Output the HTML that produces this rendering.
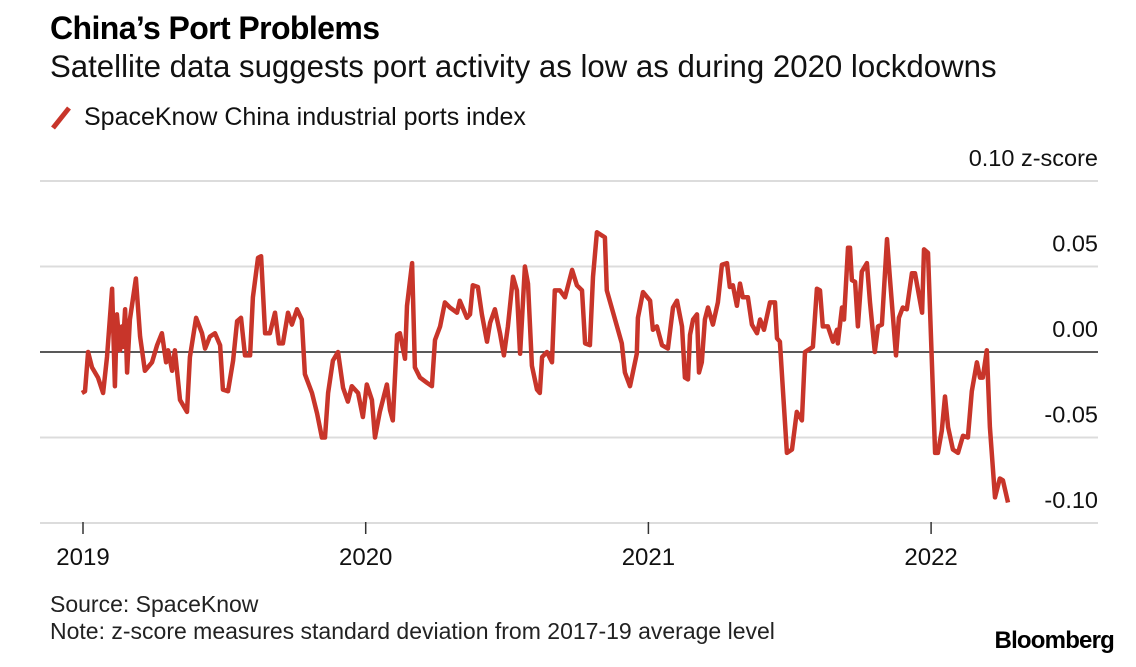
<!DOCTYPE html>
<html><head><meta charset="utf-8"><style>
html,body{margin:0;padding:0;background:#fff;}
body{width:1136px;height:667px;overflow:hidden;font-family:"Liberation Sans",sans-serif;}
svg{display:block}
</style></head><body>
<svg id="chart" width="1136" height="667" xmlns="http://www.w3.org/2000/svg">
<text x="50" y="39" font-size="32" font-weight="bold" fill="#000" letter-spacing="-0.6">China’s Port Problems</text>
<text x="50" y="77" font-size="31.2" fill="#111">Satellite data suggests port activity as low as during 2020 lockdowns</text>
<g>
<line x1="53" y1="128" x2="69" y2="108" stroke="#c8352a" stroke-width="5"/>
<text x="84" y="125" font-size="25" fill="#111">SpaceKnow China industrial ports index</text>
</g>
<g id="grid"></g>
<g id="series"></g>
<g id="xaxis"></g>
<text x="50" y="612" font-size="23" fill="#222">Source: SpaceKnow</text>
<text x="50" y="639" font-size="23" fill="#222">Note: z-score measures standard deviation from 2017-19 average level</text>
<text x="1114" y="648" font-size="24" font-weight="bold" text-anchor="end" fill="#000" letter-spacing="-0.8">Bloomberg</text>
</svg>
<script>
const yTicks = [0.10, 0.05, 0.00, -0.05, -0.10];
const yTickLabels = ["0.10 z-score", "0.05", "0.00", "-0.05", "-0.10"];
const xTicks = [2019, 2020, 2021, 2022];
const dates = [2018.996,2019.007,2019.018,2019.032,2019.053,2019.071,2019.085,2019.103,2019.113,2019.120,2019.131,2019.138,2019.141,2019.149,2019.156,2019.166,2019.187,2019.202,2019.219,2019.244,2019.262,2019.279,2019.294,2019.301,2019.315,2019.325,2019.343,2019.368,2019.378,2019.400,2019.421,2019.432,2019.449,2019.467,2019.485,2019.495,2019.513,2019.531,2019.545,2019.559,2019.573,2019.591,2019.601,2019.619,2019.630,2019.644,2019.661,2019.679,2019.693,2019.707,2019.725,2019.739,2019.757,2019.774,2019.785,2019.810,2019.828,2019.845,2019.856,2019.867,2019.884,2019.902,2019.920,2019.937,2019.951,2019.973,2019.990,2020.004,2020.022,2020.033,2020.050,2020.075,2020.086,2020.096,2020.111,2020.121,2020.139,2020.146,2020.164,2020.174,2020.192,2020.217,2020.234,2020.245,2020.263,2020.280,2020.298,2020.323,2020.333,2020.358,2020.369,2020.379,2020.397,2020.411,2020.429,2020.440,2020.457,2020.475,2020.489,2020.503,2020.521,2020.535,2020.546,2020.563,2020.574,2020.588,2020.606,2020.616,2020.624,2020.641,2020.659,2020.669,2020.687,2020.705,2020.730,2020.747,2020.765,2020.776,2020.793,2020.804,2020.818,2020.846,2020.853,2020.889,2020.906,2020.917,2020.935,2020.959,2020.963,2020.981,2021.006,2021.016,2021.030,2021.048,2021.069,2021.087,2021.101,2021.119,2021.129,2021.140,2021.147,2021.158,2021.172,2021.179,2021.189,2021.200,2021.211,2021.228,2021.246,2021.260,2021.278,2021.288,2021.299,2021.313,2021.324,2021.334,2021.352,2021.366,2021.384,2021.395,2021.409,2021.430,2021.448,2021.455,2021.465,2021.476,2021.490,2021.508,2021.525,2021.543,2021.554,2021.582,2021.596,2021.607,2021.617,2021.635,2021.653,2021.667,2021.670,2021.685,2021.692,2021.706,2021.713,2021.720,2021.731,2021.741,2021.755,2021.773,2021.784,2021.801,2021.812,2021.826,2021.844,2021.854,2021.876,2021.886,2021.900,2021.914,2021.932,2021.943,2021.968,2021.975,2021.989,2022.014,2022.024,2022.038,2022.049,2022.060,2022.077,2022.095,2022.113,2022.130,2022.144,2022.162,2022.173,2022.183,2022.197,2022.208,2022.226,2022.243,2022.254,2022.272];
const values = [-0.024,-0.023,0.000,-0.009,-0.015,-0.024,-0.003,0.037,-0.020,0.022,0.001,0.015,0.003,0.025,-0.012,0.019,0.043,0.009,-0.011,-0.006,0.004,0.011,-0.006,0.001,-0.011,0.001,-0.028,-0.035,-0.003,0.020,0.011,0.002,0.009,0.011,0.004,-0.022,-0.023,-0.005,0.018,0.020,-0.002,-0.002,0.032,0.055,0.056,0.011,0.011,0.023,0.005,0.005,0.023,0.016,0.025,0.019,-0.013,-0.024,-0.036,-0.050,-0.050,-0.024,-0.005,0.000,-0.021,-0.029,-0.020,-0.024,-0.038,-0.019,-0.028,-0.050,-0.035,-0.019,-0.034,-0.040,0.010,0.011,-0.004,0.027,0.052,-0.009,-0.015,-0.018,-0.020,0.007,0.015,0.029,0.026,0.023,0.030,0.020,0.022,0.039,0.038,0.022,0.006,0.017,0.025,0.011,-0.002,0.015,0.044,0.036,-0.001,0.050,0.040,-0.008,-0.022,-0.024,-0.003,0.000,-0.006,0.036,0.036,0.032,0.048,0.039,0.036,0.005,0.004,0.044,0.070,0.067,0.036,0.015,0.005,-0.012,-0.020,-0.001,0.020,0.035,0.030,0.013,0.015,0.004,0.002,0.026,0.030,0.015,-0.015,-0.016,0.010,0.019,0.022,-0.012,-0.006,0.019,0.026,0.016,0.029,0.051,0.052,0.038,0.039,0.027,0.040,0.032,0.032,0.016,0.011,0.019,0.013,0.029,0.029,0.008,0.006,-0.023,-0.059,-0.057,-0.035,-0.040,0.000,0.003,0.037,0.036,0.015,0.015,0.006,0.013,0.005,0.026,0.019,0.061,0.061,0.042,0.041,0.015,0.047,0.052,0.029,0.000,0.015,0.016,0.066,0.044,-0.002,0.020,0.026,0.025,0.046,0.046,0.023,0.060,0.058,-0.059,-0.059,-0.046,-0.026,-0.044,-0.057,-0.059,-0.049,-0.050,-0.023,-0.006,-0.015,-0.015,0.001,-0.044,-0.085,-0.074,-0.075,-0.088];

const NS = "http://www.w3.org/2000/svg";
const yScale = v => 352 - v * 1710;
const xScale = t => 83 + (t - 2019) * 282.7;

const grid = document.getElementById('grid');
yTicks.forEach((v, i) => {
  const y = yScale(v);
  const ln = document.createElementNS(NS, 'line');
  ln.setAttribute('x1', 40); ln.setAttribute('x2', 1098);
  ln.setAttribute('y1', y); ln.setAttribute('y2', y);
  ln.setAttribute('stroke', v === 0 ? '#222' : '#dcdcdc');
  ln.setAttribute('stroke-width', v === 0 ? 1.5 : 2);
  
  
  grid.appendChild(ln);
  const tx = document.createElementNS(NS, 'text');
  tx.setAttribute('x', 1098); tx.setAttribute('y', y - 15);
  tx.setAttribute('text-anchor', 'end'); tx.setAttribute('font-size', '23.5');
  tx.setAttribute('fill', '#111');
  tx.textContent = yTickLabels[i];
  
  
  grid.appendChild(tx);
});

const xa = document.getElementById('xaxis');
xTicks.forEach(t => {
  const x = xScale(t);
  const ln = document.createElementNS(NS, 'line');
  ln.setAttribute('x1', x); ln.setAttribute('x2', x);
  ln.setAttribute('y1', 522); ln.setAttribute('y2', 534);
  ln.setAttribute('stroke', '#333'); ln.setAttribute('stroke-width', 1.5);
  
  
  xa.appendChild(ln);
  const tx = document.createElementNS(NS, 'text');
  tx.setAttribute('x', x); tx.setAttribute('y', 565);
  tx.setAttribute('text-anchor', 'middle'); tx.setAttribute('font-size', '24');
  tx.setAttribute('fill', '#111');
  tx.textContent = String(t);
  
  
  xa.appendChild(tx);
});

const pts = dates.map((d, i) => xScale(d).toFixed(1) + ',' + yScale(values[i]).toFixed(1)).join(' ');
const pl = document.createElementNS(NS, 'polyline');
pl.setAttribute('points', pts);
pl.setAttribute('fill', 'none');
pl.setAttribute('stroke', '#c8352a');
pl.setAttribute('stroke-width', 4.5);
pl.setAttribute('stroke-linejoin', 'round');


document.getElementById('series').appendChild(pl);
</script>
</body></html>
